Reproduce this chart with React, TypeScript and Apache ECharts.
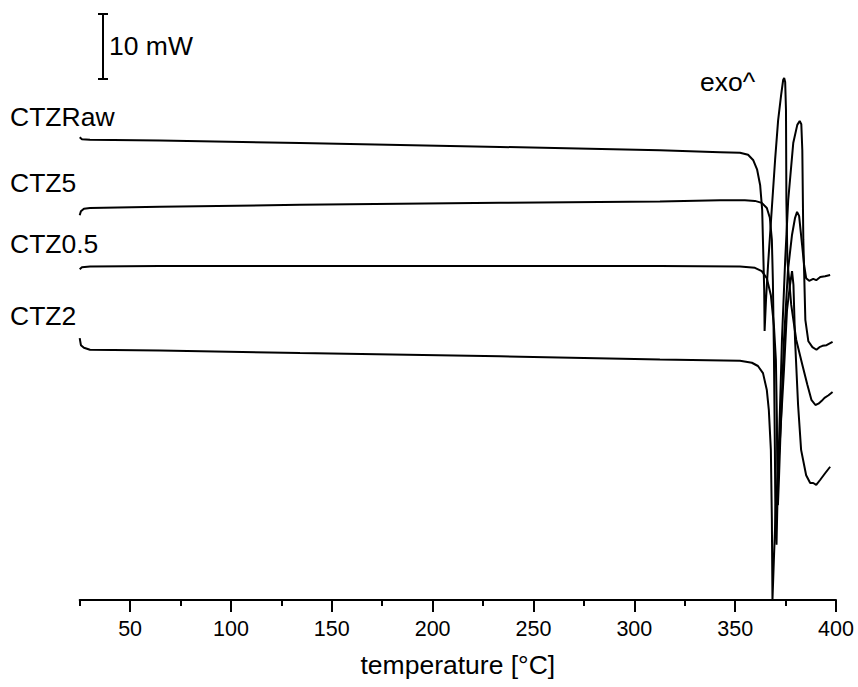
import React, { useEffect, useRef } from "react";
import * as echarts from "echarts";

// temperature [°C], heat flow [mW] (curves offset vertically as in the figure)
const ctzRaw: [number, number][] = [
  [25.0, 71.2], [26.1, 70.9], [30.1, 70.8], [64.8, 70.7], [134.2, 70.3], [233.4, 69.7],
  [312.7, 69.2], [342.5, 68.9], [352.4, 68.8], [356.4, 68.5], [358.9, 67.7], [360.9, 66.2],
  [362.4, 63.8], [363.4, 60.0], [363.9, 53.8], [364.4, 47.7], [364.6, 41.4], [365.3, 46.2],
  [366.3, 51.5], [367.3, 56.2], [368.3, 60.8], [369.8, 67.7], [371.3, 73.8], [372.8, 77.7],
  [373.8, 80.0], [374.3, 80.3], [374.8, 79.7], [375.2, 75.4], [375.4, 61.5], [375.9, 52.3],
  [377.8, 45.4], [380.3, 40.0], [383.3, 36.2], [385.8, 33.1], [387.8, 30.8], [389.8, 30.0],
  [391.3, 30.2], [392.8, 30.6], [394.3, 31.1], [396.3, 31.5], [398.3, 32.0],
];

const ctz5: [number, number][] = [
  [25.0, 59.2], [25.6, 59.8], [27.1, 60.2], [30.1, 60.3], [64.8, 60.5], [134.2, 60.8],
  [233.4, 61.1], [312.7, 61.3], [342.5, 61.5], [354.8, 61.5], [359.8, 61.4], [363.2, 61.1],
  [365.7, 60.3], [367.2, 58.8], [368.2, 55.4], [368.7, 49.2], [369.2, 38.5], [369.7, 23.1],
  [370.0, 10.8], [370.5, 8.5], [371.2, 18.5], [372.2, 29.2], [373.2, 40.0], [374.8, 52.3],
  [376.3, 61.5], [378.8, 70.3], [380.8, 73.1], [382.0, 73.7], [382.8, 73.2], [383.3, 69.2],
  [383.8, 55.4], [384.8, 43.1], [386.3, 39.8], [388.3, 38.9], [390.3, 38.5], [391.8, 38.9],
  [393.3, 39.1], [395.3, 39.2], [398.3, 39.7],
];

const ctz05: [number, number][] = [
  [25.0, 50.9], [26.1, 51.2], [30.1, 51.3], [64.8, 51.4], [183.8, 51.4], [312.7, 51.4],
  [352.4, 51.3], [359.8, 51.1], [363.2, 50.6], [365.7, 49.5], [367.7, 46.9], [369.2, 42.3],
  [370.2, 36.9], [370.7, 27.7], [370.9, 18.5], [371.2, 14.6], [371.7, 18.5], [372.7, 27.7],
  [374.2, 40.0], [376.2, 50.8], [378.2, 56.2], [379.7, 58.8], [380.7, 59.7], [381.7, 59.1],
  [383.2, 54.6], [384.2, 51.5], [385.2, 49.5], [386.7, 49.1], [388.7, 49.4], [390.2, 49.2],
  [392.2, 49.7], [394.6, 49.8], [397.1, 50.0],
];

const ctz2: [number, number][] = [
  [25.0, 40.3], [25.6, 39.2], [27.1, 38.8], [30.1, 38.5], [64.8, 38.4], [134.2, 38.0],
  [233.4, 37.5], [312.7, 37.0], [352.4, 36.8], [358.3, 36.5], [361.3, 36.0], [363.8, 34.9],
  [365.7, 32.3], [366.7, 29.2], [367.7, 23.1], [368.2, 12.3], [368.5, 0.0], [369.2, 6.2],
  [370.2, 14.6], [372.2, 24.6], [374.2, 35.4], [375.7, 44.6], [377.2, 48.5], [378.2, 50.6],
  [378.9, 48.5], [379.7, 40.0], [381.2, 30.0], [382.7, 23.1], [385.2, 19.2], [387.2, 18.0],
  [388.7, 18.0], [390.2, 17.7], [392.2, 18.5], [394.6, 19.5], [397.1, 20.5],
];

const seriesNames = ["CTZRaw", "CTZ5", "CTZ0.5", "CTZ2"];
const seriesData = [ctzRaw, ctz5, ctz05, ctz2];
const majorTicks = [50, 100, 150, 200, 250, 300, 350, 400];
const xTitle = "temperature [°C]";
const scaleText = "10 mW";
const exoText = "exo^";

const FONT = "'Liberation Sans', Arial, Helvetica, sans-serif";

export default function App() {
  const ref = useRef<HTMLDivElement>(null);
  useEffect(() => {
    document.body.style.margin = "0";
    if (!ref.current) return;
    const chart = echarts.init(ref.current, null, { renderer: "svg" });
    const labelPos = [117, 183, 244, 316];
    chart.setOption({
      animation: false,
      backgroundColor: "#ffffff",
      grid: [
        { left: 79.7, right: 22, top: 15, bottom: 87 },
        { left: 130.1, right: 22, top: 15, bottom: 87 },
      ],
      xAxis: [
        {
          type: "value",
          gridIndex: 0,
          min: 25,
          max: 400,
          interval: 25,
          axisLine: { show: true, lineStyle: { color: "#000", width: 2 } },
          axisTick: { show: true, length: 6, lineStyle: { color: "#000", width: 2 } },
          axisLabel: { show: false },
          splitLine: { show: false },
          name: xTitle,
          nameLocation: "middle",
          nameGap: 51,
          nameTextStyle: { color: "#000", fontSize: 26.5, fontFamily: FONT },
        },
        {
          type: "value",
          gridIndex: 1,
          min: 50,
          max: 400,
          interval: 50,
          axisLine: { show: false },
          axisTick: { show: true, length: 12, lineStyle: { color: "#000", width: 2 } },
          axisLabel: {
            show: true,
            margin: 18,
            color: "#000",
            fontSize: 21.5,
            fontFamily: FONT,
            formatter: (v: number) => (majorTicks.includes(v) ? String(v) : ""),
          },
          splitLine: { show: false },
        },
      ],
      yAxis: [
        { type: "value", gridIndex: 0, min: 0, max: 90, show: false },
        { type: "value", gridIndex: 1, min: 0, max: 90, show: false },
      ],
      series: seriesData.map((d, i) => ({
        name: seriesNames[i],
        type: "line",
        xAxisIndex: 0,
        yAxisIndex: 0,
        data: d,
        showSymbol: false,
        symbol: "none",
        lineStyle: { color: "#000", width: 2 },
        clip: false,
      })),
      graphic: [
        { type: "line", shape: { x1: 103, y1: 14, x2: 103, y2: 79 }, style: { stroke: "#000", lineWidth: 2 } },
        { type: "line", shape: { x1: 98, y1: 14, x2: 108, y2: 14 }, style: { stroke: "#000", lineWidth: 2 } },
        { type: "line", shape: { x1: 98, y1: 79, x2: 108, y2: 79 }, style: { stroke: "#000", lineWidth: 2 } },
        {
          type: "text", x: 109, y: 46,
          style: { text: scaleText, fill: "#000", fontSize: 26.5, fontFamily: FONT, verticalAlign: "middle" },
        },
        {
          type: "text", x: 700, y: 82,
          style: { text: exoText, fill: "#000", fontSize: 26.5, fontFamily: FONT, verticalAlign: "middle" },
        },
        ...seriesNames.map((n, i) => ({
          type: "text", x: 10, y: labelPos[i],
          style: { text: n, fill: "#000", fontSize: 26.5, fontFamily: FONT, verticalAlign: "middle" },
        })),
      ],
    });
    return () => chart.dispose();
  }, []);
  return <div ref={ref} style={{ width: 858, height: 687 }} />;
}
